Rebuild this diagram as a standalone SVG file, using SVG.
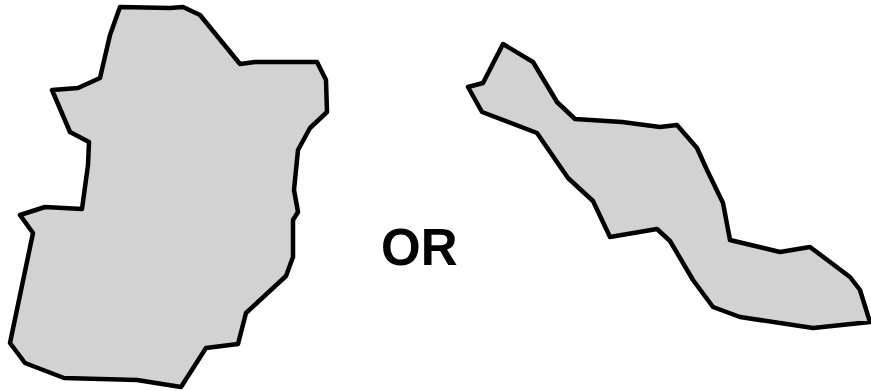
<svg xmlns="http://www.w3.org/2000/svg" width="871" height="391" viewBox="0 0 871 391">
<style>
.shape{fill:#d2d2d2;stroke:#000;stroke-width:4.5;stroke-linejoin:round}
.lbl{font-family:"Liberation Sans",Arial,sans-serif;font-weight:bold;font-size:51px;fill:#000}
</style>
<rect width="871" height="391" fill="#fff"/>
<g id="shape-left">
<path class="shape" d="M120,7 L170,8 L183,7 L200,15 L240,64 L255,62 L317,62 L326,80 L327,112 L310,128 L298,150 L294,190 L298,212 L293,220 L293,257 L286,276 L246,313 L238,344 L206,348 L181,387 L137,380 L64,378 L25,363 L10,343 L33,233 L20,215 L45,207 L82,209 L88,165 L89,142 L70,132 L52,90 L78,88 L100,78 L110,35 Z"/>
</g>
<g id="shape-right">
<path class="shape" d="M468,87 L483,83 L503,44 L533,62 L557,102 L575,119 L622,122 L660,127 L677,125 L697,148 L707,170 L723,203 L730,240 L780,252 L810,247 L850,277 L860,290 L870,322 L813,328 L740,317 L713,307 L693,280 L670,241 L657,229 L610,237 L593,201 L568,178 L537,133 L482,112 Z"/>
</g>
<g id="label-or">
<text class="lbl" x="381" y="265">OR</text>
</g>
<g id="connectors"/>
</svg>
